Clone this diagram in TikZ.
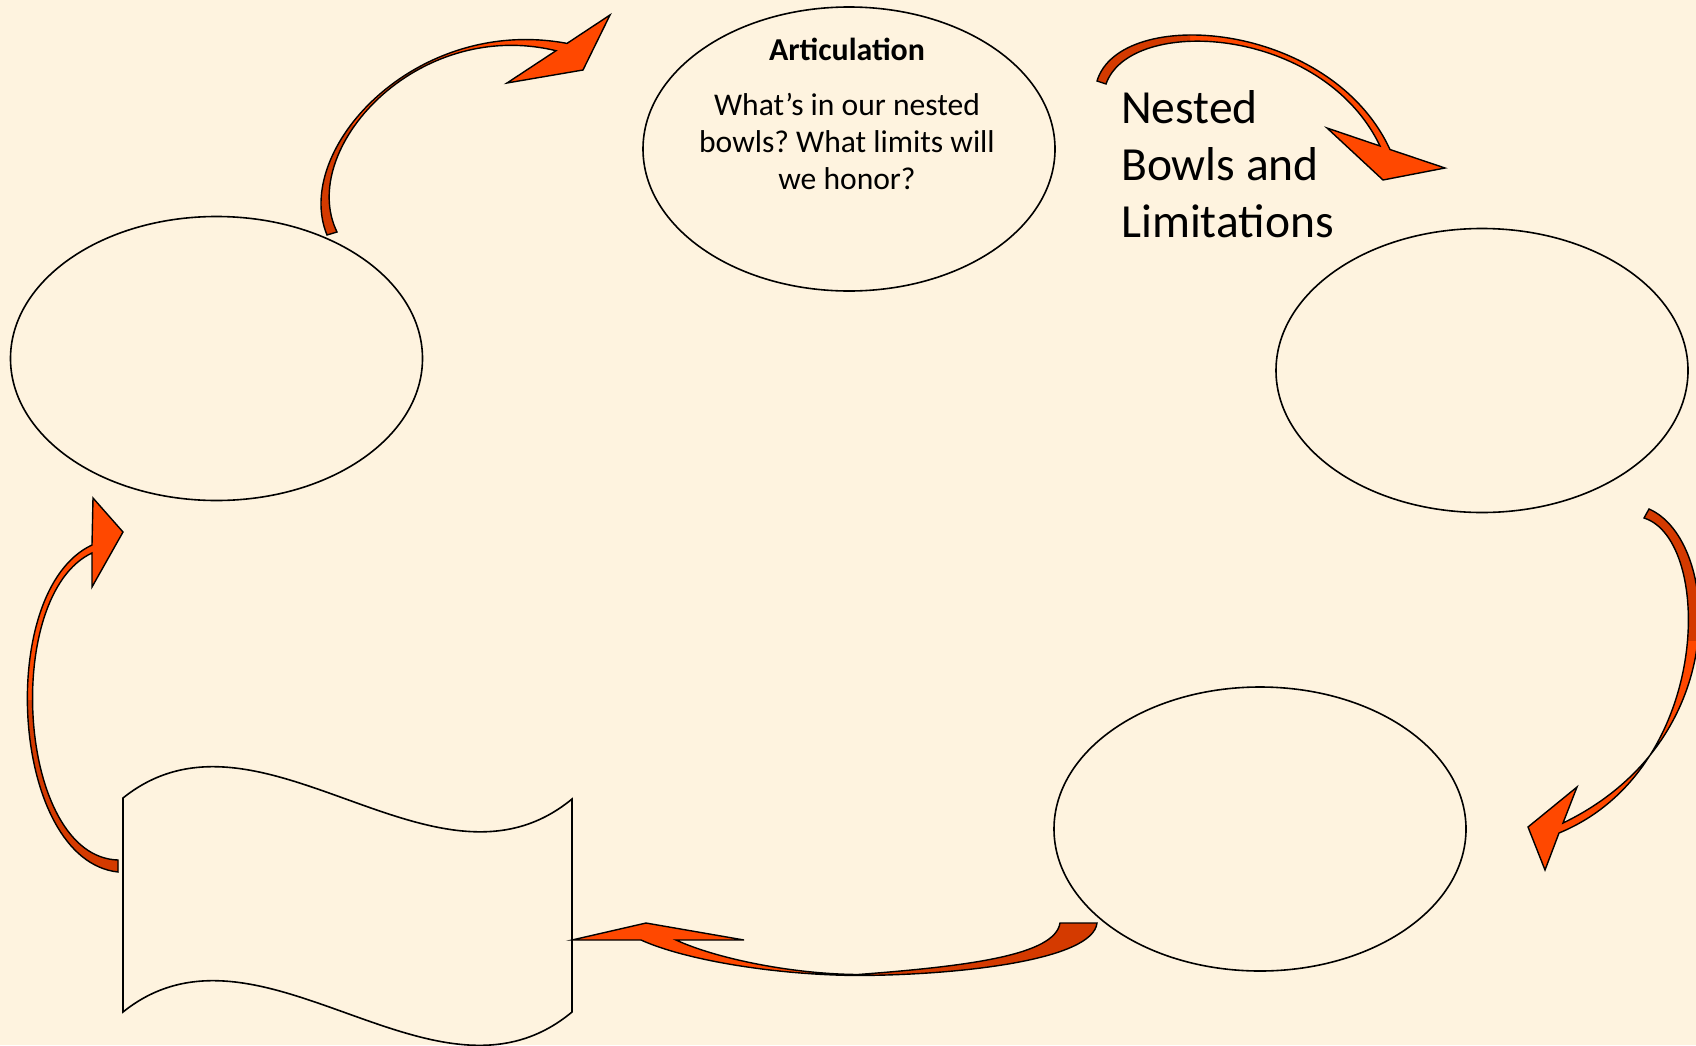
\documentclass[tikz,border=0pt]{standalone}
\usepackage{fontspec}
\setmainfont{Carlito}
\usetikzlibrary{shapes.geometric}
\definecolor{bg}{HTML}{FEF3DF}
\definecolor{arrbright}{RGB}{255,72,0}
\definecolor{arrdark}{RGB}{212,58,0}
\tikzset{
  bowl/.style={ellipse, draw=black, line width=1.6bp, fill=bg,
    minimum width=412bp, minimum height=284bp, inner sep=0pt},
  wavebox/.style={draw=black, line width=1.6bp, fill=bg, line join=miter},
  arrowline/.style={draw=black, line width=1.4bp, line join=miter},
  qhead/.style={anchor=base, inner sep=0pt, font=\fontsize{32}{36}\selectfont\bfseries},
  qtext/.style={anchor=base, inner sep=0pt, font=\fontsize{31.7}{36}\selectfont},
  nbtext/.style={anchor=base west, inner sep=0pt, font=\fontsize{47.7}{56}\selectfont},
}
\newcommand\blockarrow[2]{%
  \fill[arrbright] #1;
  \begin{scope}\clip #2; \fill[arrdark] #1; \end{scope}
  \draw[arrowline] #1;
}
\frenchspacing
\begin{document}
\begin{tikzpicture}[x=1bp,y=-1bp]
\useasboundingbox (0,0) rectangle (1696,1045);
\fill[bg] (0,0) rectangle (1696,1045);

% bowls
\node[bowl] (top)   at (849,149) {};
\node[bowl] (left)  at (216.5,358.5) {};
\node[bowl] (right) at (1482,370.5) {};
\node[bowl] (botr)  at (1260,829) {};

% wavy document shape
\draw[wavebox] (123,798) .. controls (260,688) and (435,912) .. (572,799)
  -- (572,1012) .. controls (435,1126) and (260,902) .. (123,1012) -- cycle;

% arrow 1: left bowl -> top bowl
\blockarrow{(327,235) .. controls (292,150) and (415,15) .. (567,43.4) -- (610,15) -- (583,70) -- (507,83) -- (556,50.7) .. controls (416,17) and (297,150) .. (337,232) -- cycle}{(260,125) rectangle (400,260)}

% arrow 2: top bowl -> right bowl
\blockarrow{(1097,81) .. controls (1120,5) and (1330,20) .. (1390,149.5) -- (1445,168) -- (1383,180) -- (1327,128) -- (1380,146) .. controls (1322,25) and (1130,15) .. (1106,84) -- cycle}{(1080,0) rectangle (1190,100)}

% arrow 3: right bowl -> bottom-right bowl
\blockarrow{(1649,509) .. controls (1720,540) and (1735,740) .. (1563,823) -- (1577,787) -- (1528,827) -- (1545,870) -- (1559,833) .. controls (1712,770) and (1714,540) .. (1644,518) -- cycle}{(1620,490) rectangle (1700,640)}

% arrow 4: bottom-right bowl -> wavy box
\blockarrow{(1097,923) .. controls (1093,960) and (960,975) .. (858,975.5) .. controls (775,975) and (685,960) .. (641,940) -- (572,940) -- (646,923) -- (744,940) -- (676,940) .. controls (715,958) and (790,974) .. (858,974.5) .. controls (970,966) and (1055,955) .. (1060,923) -- cycle}{(858,900) rectangle (1110,995)}

% arrow 5: wavy box -> left bowl
\blockarrow{(118,872) .. controls (10,860) and (-5,590) .. (92,545) -- (93,498) -- (123,532) -- (92,587) -- (92,553) .. controls (2,595) and (17,857) .. (118,860) -- cycle}{(0,700) rectangle (130,890)}

% texts
\node[qhead] (art) at (847,60) {Articulation};
\node[qtext] (q1) at (847,115) {What’s in our nested};
\node[qtext] (q2) at (847,152.5) {bowls? What limits will};
\node[qtext] (q3) at (847,189) {we honor?};

\node[nbtext] (nb1) at (1121,123) {Nested};
\node[nbtext] (nb2) at (1121,180) {Bowls and};
\node[nbtext] (nb3) at (1121,237) {Limitations};
\end{tikzpicture}
\end{document}
